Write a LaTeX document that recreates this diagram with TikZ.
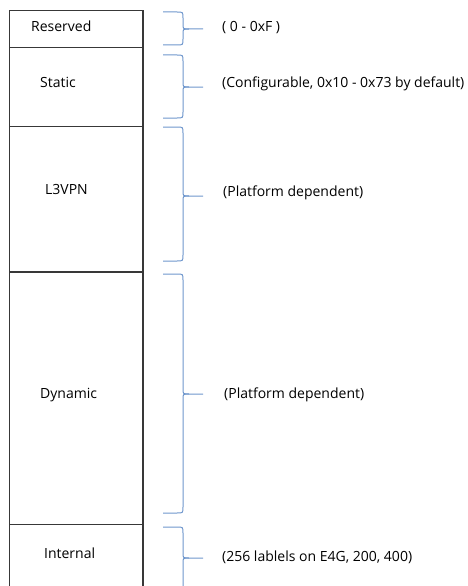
\documentclass[tikz,border=0pt]{standalone}
\usepackage{fontspec}
\setmainfont{Open Sans}
\usepackage{xcolor}
\usetikzlibrary{positioning}

\definecolor{boxgray}{HTML}{383838}
\definecolor{braceblue}{HTML}{6E96CC}

% brace with top, tip and bottom y
\newcommand{\rangebrace}[3]{%
  \draw[brace] (163,#1) -- (177,#1) .. controls (183,#1) .. (183,#1+6)
    -- (183,#2-5) .. controls (183,#2) .. (189,#2) -- (203,#2);
  \draw[brace] (189,#2) .. controls (183,#2) .. (183,#2+5)
    -- (183,#3-6) .. controls (183,#3) .. (177,#3) -- (163,#3);
}

\begin{document}
\begin{tikzpicture}[
  x=1pt, y=-1pt,
  field/.style={draw=boxgray, line width=1.1pt, minimum width=133.5pt, inner sep=0pt, outer sep=0pt},
  brace/.style={braceblue, line width=1pt},
  tag/.style={anchor=base west, inner sep=0pt, font=\fontsize{14}{17}\selectfont}
]
  \useasboundingbox (0,0) rectangle (467,586);
  \clip (0,0) rectangle (467,586);
  \node[field, minimum height=37pt, anchor=north west] (reserved) at (9.5,10.5) {};
  \node[field, minimum height=79pt, below=0pt of reserved] (static) {};
  \node[field, minimum height=145.5pt, below=0pt of static] (l3vpn) {};
  \node[field, minimum height=252.5pt, below=0pt of l3vpn] (dynamic) {};
  \node[field, minimum height=80pt, below=0pt of dynamic] (internal) {};
  \node[tag] (reservedname) at (31,31.5) {Reserved};
  \node[tag] (staticname) at (40,88) {Static};
  \node[tag] (l3vpnname) at (45,194) {L3VPN};
  \node[tag] (dynamicname) at (40,398) {Dynamic};
  \node[tag] (internalname) at (44,558) {Internal};
  \rangebrace{12}{29}{45}
  \rangebrace{55}{87}{118}
  \rangebrace{127}{196}{261}
  \rangebrace{274}{394}{513}
  \rangebrace{527}{558}{620}
  \node[tag] (reservedrange) at (222,32) {( 0 - 0xF )};
  \node[tag] (staticrange) at (222,88) {(Configurable, 0x10 - 0x73 by default)};
  \node[tag] (l3vpnrange) at (223,196) {(Platform dependent)};
  \node[tag] (dynamicrange) at (224,398) {(Platform dependent)};
  \node[tag] (internalrange) at (222,561) {(256 lablels on E4G, 200, 400)};
\end{tikzpicture}
\end{document}
